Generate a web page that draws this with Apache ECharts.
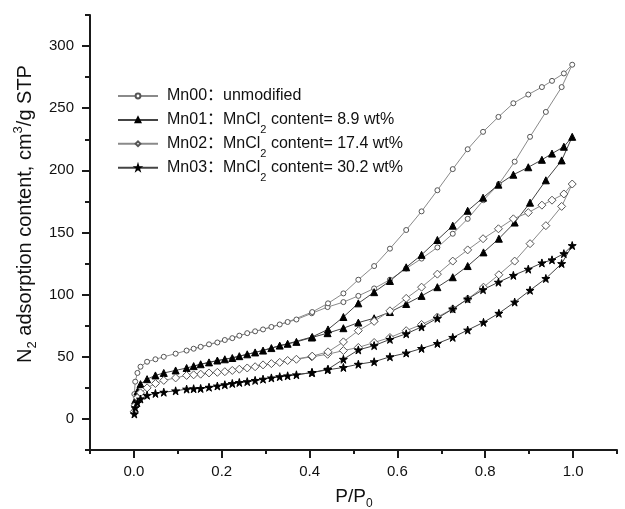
<!DOCTYPE html>
<html><head><meta charset="utf-8">
<script src="https://cdn.jsdelivr.net/npm/echarts@6/dist/echarts.min.js"></script>
<style>html,body{margin:0;padding:0;background:#fff}#c{width:625px;height:509px}</style>
</head><body><div id="c"></div>
<script>
// Relative pressure points (adsorption branch, ascending)
const adsP = [0.001, 0.003, 0.008, 0.015, 0.03, 0.049, 0.068, 0.095, 0.12, 0.152, 0.19, 0.224, 0.258, 0.294, 0.332, 0.37, 0.405, 0.441, 0.477, 0.511, 0.547, 0.583, 0.62, 0.655, 0.691, 0.726, 0.76, 0.796, 0.831, 0.867, 0.902, 0.938, 0.974, 0.998];
// Relative pressure points (desorption branch, descending)
const desP = [0.979, 0.952, 0.929, 0.898, 0.864, 0.83, 0.795, 0.76, 0.726, 0.691, 0.655, 0.62, 0.583, 0.547, 0.511, 0.477, 0.442, 0.406, 0.35, 0.313, 0.276, 0.24, 0.207, 0.171, 0.136];

const mn00Ads = [20, 30, 37, 42, 46, 48, 50, 52.5, 55, 58, 61.5, 65, 69, 72, 76, 80, 85, 90, 94, 99, 105, 112, 121, 129, 138, 149, 161, 176, 189, 207, 227, 247, 267, 285];
const mn00Des = [278, 272, 267, 261, 254, 243, 231, 217, 201, 184, 167, 152, 137, 123, 112, 101, 93, 86, 78, 74, 70.5, 67, 63.5, 60, 56.5];

const mn01Ads = [8, 15, 22, 28, 32, 35, 37, 39, 41, 44, 47, 49, 52, 55, 59, 62, 65.5, 69, 73, 77.5, 81, 86, 92.5, 99, 106, 114, 123, 134, 145, 158, 174, 192, 208, 227];
const mn01Des = [219, 213.5, 208.5, 202.5, 196.5, 188.5, 178, 167.5, 155.5, 144, 132, 122, 111, 102, 93, 82, 72, 66, 60.5, 57, 53.5, 50.5, 48, 45.5, 42.5];

const mn02Ads = [6, 11, 17, 21, 25, 28.5, 31, 33, 35, 36, 37.5, 39, 41, 43.5, 45.5, 48, 50, 52, 55, 57.5, 61.5, 65.5, 71, 76, 82, 88.5, 96.5, 106, 116, 127, 141, 155.5, 171, 189];
const mn02Des = [181, 176, 172, 166, 161, 153, 145, 136, 127, 116.5, 106, 97, 87, 78.5, 71, 62, 54, 50.5, 47, 44.5, 42, 40, 38, 37, 35.5];

const mn03Ads = [4, 9, 13, 16, 19, 20.5, 21.5, 22.6, 24, 24.5, 26.5, 28.5, 30, 32, 34, 35.5, 37.3, 39.5, 41.4, 44, 46, 50, 53, 56.7, 60.7, 65.6, 71.5, 77.7, 85, 94, 103.5, 113, 125, 139.5];
const mn03Des = [133, 128, 125.5, 120.5, 115.5, 110, 104, 96.5, 88.5, 81, 74, 68.5, 64, 59, 55.5, 48, 40, 37.3, 34.7, 33, 31, 29.3, 27.5, 25.5, 24.3];

const seriesNames = ['Mn00', 'Mn01', 'Mn02', 'Mn03'];
const legendLabels = {
  Mn00: '{t|Mn00：unmodified}{s| }',
  Mn01: '{t|Mn01：MnCl}{s|2}{t| content= 8.9 wt%}',
  Mn02: '{t|Mn02：MnCl}{s|2}{t| content= 17.4 wt%}',
  Mn03: '{t|Mn03：MnCl}{s|2}{t| content= 30.2 wt%}'
};
const xMajorTicks = [0, 0.2, 0.4, 0.6, 0.8, 1.0];
const xMinorTicks = [-0.1, 0.1, 0.3, 0.5, 0.7, 0.9, 1.1];
const yMajorTicks = [0, 50, 100, 150, 200, 250, 300];
const yMinorTicks = [-25, 25, 75, 125, 175, 225, 275, 325];

const FONT = "'Liberation Sans', Arial, 'Noto Sans CJK SC', sans-serif";
const AX = '#1a1a1a';
const STAR = 'path://M50,0 L61,35 L98,35 L68,57 L79,91 L50,70 L21,91 L32,57 L2,35 L39,35 Z';

function pairs(xs, ys) { return xs.map((x, i) => [x, ys[i]]); }

const styles = {
  Mn00: {symbol: 'circle', size: 5, fill: '#fff', border: '#555', line: '#8a8a8a'},
  Mn01: {symbol: 'triangle', size: 7, fill: '#000', border: '#000', line: '#444'},
  Mn02: {symbol: 'diamond', size: 8, fill: '#fff', border: '#555', line: '#8a8a8a'},
  Mn03: {symbol: STAR, size: 8, fill: '#000', border: '#000', line: '#444'}
};
const dataMap = {
  Mn00: pairs(adsP, mn00Ads).concat(pairs(desP, mn00Des)),
  Mn01: pairs(adsP, mn01Ads).concat(pairs(desP, mn01Des)),
  Mn02: pairs(adsP, mn02Ads).concat(pairs(desP, mn02Des)),
  Mn03: pairs(adsP, mn03Ads).concat(pairs(desP, mn03Des))
};

const series = seriesNames.map(n => ({
  name: n, type: 'line', data: dataMap[n],
  symbol: styles[n].symbol, symbolSize: styles[n].size, showAllSymbol: true,
  lineStyle: {color: styles[n].line, width: 1},
  itemStyle: {color: styles[n].fill, borderColor: styles[n].border, borderWidth: 1},
  emphasis: {disabled: true}, z: 3
}));

const chart = echarts.init(document.getElementById('c'), null, {renderer: 'canvas'});
chart.setOption({
  animation: false,
  backgroundColor: '#fff',
  grid: {left: 90, right: 8, top: 15, bottom: 59},
  xAxis: [{
    type: 'value', min: -0.1, max: 1.1, splitLine: {show: false}, position: 'bottom',
    axisLine: {onZero: false, lineStyle: {color: AX, width: 2}},
    axisTick: {customValues: xMajorTicks, length: 8, lineStyle: {color: AX, width: 2}},
    axisLabel: {customValues: xMajorTicks, formatter: v => v.toFixed(1), margin: 14, color: '#111', fontSize: 15, fontFamily: FONT}
  }, {
    type: 'value', min: -0.1, max: 1.1, position: 'bottom', splitLine: {show: false},
    axisLine: {show: false, onZero: false}, axisLabel: {show: false},
    axisTick: {customValues: xMinorTicks, length: 4, lineStyle: {color: AX, width: 2}}
  }],
  yAxis: [{
    type: 'value', min: -25, max: 325, splitLine: {show: false}, position: 'left',
    axisLine: {onZero: false, lineStyle: {color: AX, width: 2}},
    axisTick: {customValues: yMajorTicks, length: 8, lineStyle: {color: AX, width: 2}},
    axisLabel: {customValues: yMajorTicks, margin: 16, color: '#111', fontSize: 15, fontFamily: FONT}
  }, {
    type: 'value', min: -25, max: 325, position: 'left', splitLine: {show: false},
    axisLine: {show: false, onZero: false}, axisLabel: {show: false},
    axisTick: {customValues: yMinorTicks, length: 5, lineStyle: {color: AX, width: 2}}
  }],
  legend: {
    orient: 'vertical', left: 112, top: 83, itemWidth: 40, itemHeight: 6, itemGap: 0.4,
    data: seriesNames, formatter: n => legendLabels[n],
    textStyle: {
      fontFamily: FONT, fontSize: 16, color: '#111', padding: [0, 0, 0, 4],
      rich: {
        t: {fontFamily: FONT, fontSize: 16, lineHeight: 22, color: '#111'},
        s: {fontFamily: FONT, fontSize: 11, padding: [20, 0, 0, 0], verticalAlign: 'top', color: '#111'}
      }
    }
  },
  graphic: [{
    type: 'text', x: 25, y: 214, rotation: Math.PI / 2,
    style: {
      text: '{t|N}{s|2}{t| adsorption content, cm}{p|3}{t|/g STP}',
      align: 'center', verticalAlign: 'middle', fill: '#111',
      rich: {
        t: {fontFamily: FONT, fontSize: 20, lineHeight: 24, fill: '#111'},
        s: {fontFamily: FONT, fontSize: 13, padding: [14, 0, 0, 0], verticalAlign: 'top', fill: '#111'},
        p: {fontFamily: FONT, fontSize: 13, padding: [0, 0, 0, 0], verticalAlign: 'top', fill: '#111'}
      }
    }
  }, {
    type: 'text', x: 354, y: 497,
    style: {
      text: '{t|P/P}{s|0}',
      align: 'center', verticalAlign: 'middle', fill: '#111',
      rich: {
        t: {fontFamily: FONT, fontSize: 19, lineHeight: 24, fill: '#111'},
        s: {fontFamily: FONT, fontSize: 12, padding: [14, 0, 0, 0], verticalAlign: 'top', fill: '#111'}
      }
    }
  }],
  series: series
});
</script></body></html>
